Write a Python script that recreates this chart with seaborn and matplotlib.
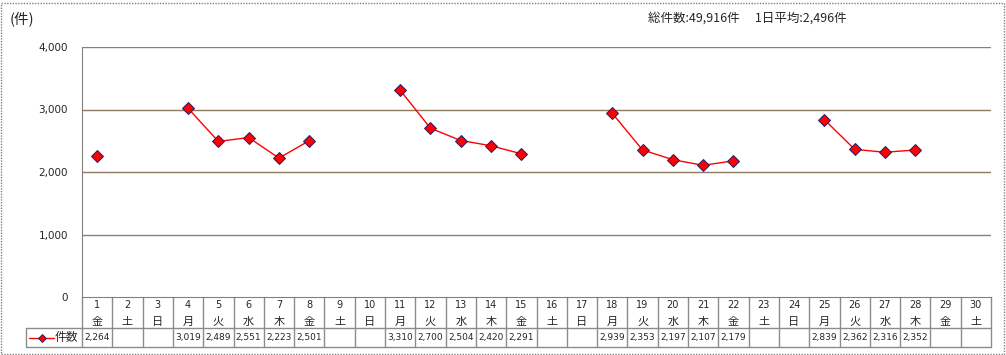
import numpy as np
import pandas as pd
import matplotlib
matplotlib.use("Agg")
import matplotlib.pyplot as plt
import matplotlib.transforms as mtransforms
from matplotlib.lines import Line2D
from matplotlib.patches import Rectangle
import seaborn as sns

# Daily counts for the month (blank = weekend / holiday)
days = list(range(1, 31))
weekdays = ["金", "土", "日", "月", "火", "水", "木", "金", "土", "日",
            "月", "火", "水", "木", "金", "土", "日", "月", "火", "水",
            "木", "金", "土", "日", "月", "火", "水", "木", "金", "土"]
counts = [2264, None, None, 3019, 2489, 2551, 2223, 2501, None, None,
          3310, 2700, 2504, 2420, 2291, None, None, 2939, 2353, 2197,
          2107, 2179, None, None, 2839, 2362, 2316, 2352, None, None]
series_name = "件数"
y_ticks = [0, 1000, 2000, 3000, 4000]
header_text = "総件数:49,916件　 1日平均:2,496件"
unit_text = "(件)"

sns.set_style("white")
plt.rcParams["font.family"] = ["Noto Sans CJK JP", "DejaVu Sans"]

# Build a frame with a segment id so weekend gaps break the line
df = pd.DataFrame({"pos": np.arange(len(days)), "count": counts})
df["seg"] = df["count"].isna().cumsum()
df = df.dropna()

W, H = 1006, 355
fig = plt.figure(figsize=(W / 100, H / 100), dpi=100)
x0, x1, ytop, ybot = 82, 991, 47, 297
ax = fig.add_axes([x0 / W, 1 - ybot / H, (x1 - x0) / W, (ybot - ytop) / H])

grid_cols = {1000: "#8a7a8e", 2000: "#8e7a5e", 3000: "#8e7a5e", 4000: "#8a7a8e"}
for v, c in grid_cols.items():
    ax.axhline(v, color=c, lw=1, zorder=1)

sns.lineplot(data=df, x="pos", y="count", units="seg", estimator=None,
             color="#ff0000", lw=1, marker="D", markersize=6,
             markerfacecolor="#ff0000", markeredgecolor="#1f1f6e",
             markeredgewidth=0.7, ax=ax, zorder=3, legend=False)

ax.set_xlim(-0.5, len(days) - 0.5)
ax.set_ylim(0, 4000)
ax.set_yticks(y_ticks)
ax.set_yticklabels([f"{v:,}" for v in y_ticks], fontsize=7.5,
                   family=["DejaVu Sans"])
ax.set_xticks([])
ax.set_xlabel("")
ax.set_ylabel("")
ax.tick_params(axis="y", direction="out", length=4, width=1, color="#808080", pad=6)
for s in ["top", "right"]:
    ax.spines[s].set_visible(False)
ax.spines["left"].set_color("#808080")
ax.spines["bottom"].set_color("#808080")

# Data table under the axis
trans = mtransforms.blended_transform_factory(ax.transData, ax.transAxes)
ah = ybot - ytop
colw = (x1 - x0) / len(days)


def yf(py):
    return -(py - ybot) / ah


def xf(px):
    return -0.5 + (px - x0) / colw


grid_c = "#8c8c8c"
leg_left = xf(26)
right = len(days) - 0.5
for i in range(len(days) + 1):
    ax.add_line(Line2D([i - 0.5, i - 0.5], [0, yf(347)], transform=trans,
                       color=grid_c, lw=1, clip_on=False))
for py in (328, 347):
    ax.add_line(Line2D([leg_left, right], [yf(py), yf(py)], transform=trans,
                       color=grid_c, lw=1, clip_on=False))
ax.add_line(Line2D([leg_left, leg_left], [yf(328), yf(347)], transform=trans,
                   color=grid_c, lw=1, clip_on=False))

for i, (d, wd, c) in enumerate(zip(days, weekdays, counts)):
    ax.text(i, yf(305), str(d), transform=trans, ha="center", va="center",
            fontsize=7, family=["DejaVu Sans"])
    ax.text(i, yf(322), wd, transform=trans, ha="center", va="center", fontsize=8)
    if c is not None:
        ax.text(i, yf(337.5), f"{c:,}", transform=trans, ha="center", va="center",
                fontsize=6.5, family=["DejaVu Sans"])

# legend key in the table
ax.add_line(Line2D([xf(29), xf(54)], [yf(337.5), yf(337.5)], transform=trans,
                   color="#ff0000", lw=1, clip_on=False))
ax.add_line(Line2D([xf(42)], [yf(337.5)], transform=trans, marker="D",
                   markersize=4, markerfacecolor="#ff0000", markeredgecolor="#1f1f6e",
                   markeredgewidth=0.6, clip_on=False))
ax.text(xf(55), yf(337.5), series_name, transform=trans, ha="left",
        va="center", fontsize=8.5)

fig.text(10 / W, 1 - 19 / H, unit_text, fontsize=10.5, va="center", ha="left")
fig.text(648 / W, 1 - 18 / H, header_text, fontsize=9, va="center", ha="left")

fig.patches.append(Rectangle((1 / W, 1 / H), (W - 3) / W, (H - 4) / H,
                             transform=fig.transFigure, fill=False,
                             edgecolor="#808080", lw=1, linestyle=(0, (1, 1))))

fig.savefig("out.png", dpi=100)
